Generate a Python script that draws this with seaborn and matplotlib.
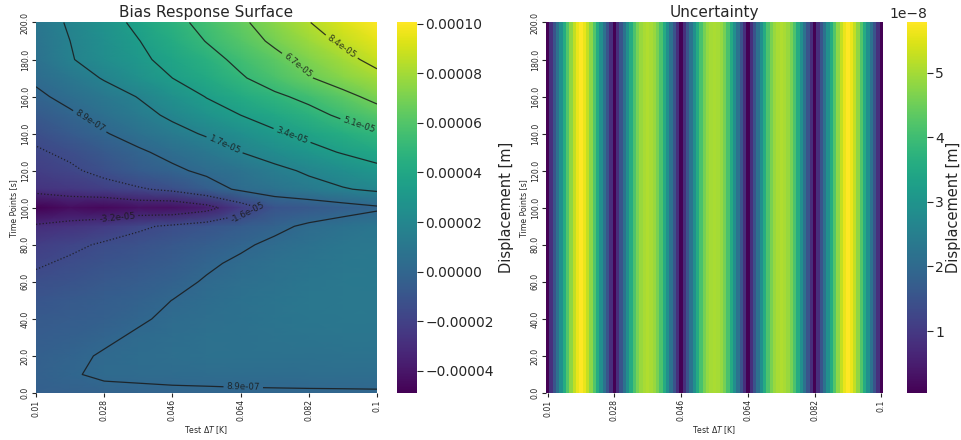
import numpy as np
import pandas as pd
import matplotlib
matplotlib.use("Agg")
import matplotlib.pyplot as plt
import seaborn as sns

# ---------------- data ----------------
# Bias surface grid (values in units of 1e-5 m)
delta_T = [0.01, 0.019, 0.028, 0.037, 0.046, 0.055, 0.064, 0.073, 0.082, 0.091, 0.1]
time_points = [200, 190, 180, 170, 160, 150, 140, 130, 120, 110, 100,
               90, 80, 70, 60, 50, 40, 30, 20, 10, 0]

bias_t200 = [0.95, 1.87, 2.8, 3.72, 4.65, 5.55, 6.45, 7.4, 8.35, 9.25, 10.05]
bias_t190 = [0.8, 1.7, 2.5, 3.35, 4.25, 5.15, 6.05, 6.95, 7.8, 8.65, 9.45]
bias_t180 = [0.6, 1.6, 2.35, 3.1, 3.85, 4.6, 5.45, 6.3, 7.15, 8.0, 8.8]
bias_t170 = [0.3, 1.05, 1.8, 2.6, 3.4, 4.15, 4.95, 5.75, 6.6, 7.35, 8.0]
bias_t160 = [-0.15, 0.45, 1.1, 1.75, 2.6, 3.45, 4.2, 4.85, 5.45, 6.3, 7.1]
bias_t150 = [-0.75, -0.1, 0.55, 1.25, 1.95, 2.8, 3.4, 4.0, 4.65, 5.35, 6.1]
bias_t140 = [-1.3, -0.65, 0.0, 0.6, 1.25, 1.85, 2.5, 3.2, 3.75, 4.35, 4.95]
bias_t130 = [-1.75, -1.35, -0.7, -0.1, 0.45, 1.0, 1.7, 2.3, 2.95, 3.5, 4.0]
bias_t120 = [-2.2, -1.8, -1.25, -0.6, -0.15, 0.35, 0.8, 1.35, 1.9, 2.45, 3.0]
bias_t110 = [-2.7, -2.45, -2.1, -1.75, -1.3, -0.5, 0.3, 0.8, 1.2, 1.6, 1.95]
bias_t100 = [-4.9, -4.4, -4.6, -4.2, -4.3, -3.7, -2.3, -1.0, -0.8, -0.45, -0.1]
bias_t090 = [-3.0, -2.7, -2.3, -1.8, -1.4, -1.0, -0.6, -0.2, 0.3, 0.65, 0.95]
bias_t080 = [-2.2, -1.85, -1.45, -1.15, -0.85, -0.5, -0.1, 0.35, 0.7, 0.95, 1.1]
bias_t070 = [-1.75, -1.4, -1.1, -0.85, -0.55, -0.1, 0.3, 0.6, 0.85, 1.05, 1.15]
bias_t060 = [-1.3, -1.05, -0.8, -0.55, -0.25, 0.2, 0.5, 0.75, 0.95, 1.1, 1.15]
bias_t050 = [-0.95, -0.75, -0.5, -0.25, 0.1, 0.4, 0.65, 0.85, 1.0, 1.1, 1.1]
bias_t040 = [-0.75, -0.55, -0.35, -0.05, 0.3, 0.5, 0.7, 0.85, 0.95, 1.0, 1.0]
bias_t030 = [-0.55, -0.35, -0.1, 0.25, 0.45, 0.6, 0.7, 0.8, 0.85, 0.9, 0.9]
bias_t020 = [-0.4, -0.15, 0.2, 0.4, 0.5, 0.6, 0.65, 0.7, 0.7, 0.75, 0.75]
bias_t010 = [-0.3, 0.0, 0.25, 0.3, 0.35, 0.38, 0.4, 0.4, 0.42, 0.42, 0.43]
bias_t000 = [-0.35, -0.3, -0.2, -0.15, -0.1, -0.08, -0.05, -0.03, -0.02, -0.01, 0.0]

# Contour levels printed on the chart
contour_levels = [-3.2e-05, -1.6e-05, 8.9e-07, 1.7e-05, 3.4e-05, 5.1e-05, 6.7e-05, 8.4e-05]

# Uncertainty per test dT column (units of 1e-8 m), constant over time
unc_seg1 = [0.05, 0.81, 1.5, 2.2, 2.9, 3.58, 4.22, 4.8, 5.26, 5.6, 5.78,
            5.6, 5.26, 4.8, 4.22, 3.58, 2.9, 2.2, 1.5, 0.81, 0.04]
unc_seg2 = [0.8, 1.5, 2.2, 2.88, 3.55, 4.15, 4.6, 4.9, 5.03, 5.09,
            5.03, 4.9, 4.6, 4.15, 3.55, 2.88, 2.2, 1.5, 0.8, 0.04]
unc_seg3 = [0.8, 1.5, 2.2, 2.87, 3.53, 4.12, 4.57, 4.87, 5.0, 5.05,
            5.0, 4.87, 4.57, 4.12, 3.53, 2.87, 2.2, 1.5, 0.8, 0.04]
unc_seg4 = [0.8, 1.5, 2.2, 2.88, 3.55, 4.15, 4.6, 4.9, 5.03, 5.09,
            5.03, 4.9, 4.6, 4.15, 3.55, 2.88, 2.2, 1.5, 0.8, 0.04]
unc_seg5 = [0.81, 1.5, 2.2, 2.9, 3.58, 4.22, 4.8, 5.26, 5.6, 5.78,
            5.6, 5.26, 4.8, 4.22, 3.58, 2.9, 2.2, 1.5, 0.81, 0.05]

x_tick_labels = ["0.01", "0.028", "0.046", "0.064", "0.082", "0.1"]
y_tick_labels = ["200.0", "180.0", "160.0", "140.0", "120.0", "100.0",
                 "80.0", "60.0", "40.0", "20.0", "0.0"]

# ---------------- build tables ----------------
bias_rows = [bias_t200, bias_t190, bias_t180, bias_t170, bias_t160, bias_t150,
             bias_t140, bias_t130, bias_t120, bias_t110, bias_t100, bias_t090,
             bias_t080, bias_t070, bias_t060, bias_t050, bias_t040, bias_t030,
             bias_t020, bias_t010, bias_t000]
bias_df = pd.DataFrame(np.array(bias_rows) * 1e-5, index=time_points, columns=delta_T)

unc_vals = np.array(unc_seg1 + unc_seg2 + unc_seg3 + unc_seg4 + unc_seg5) * 1e-8
unc_dT = np.round(np.linspace(0.01, 0.1, len(unc_vals)), 4)
unc_df = pd.DataFrame([unc_vals], index=["all"], columns=unc_dT)

# ---------------- style ----------------
sns.set_theme(style="ticks")
plt.rcParams["font.family"] = ["DejaVu Sans"]
plt.rcParams["text.color"] = ".15"
plt.rcParams["axes.labelcolor"] = ".15"

fig = plt.figure(figsize=(9.62, 4.4), dpi=100)
W, H = 962.0, 440.0
def frac(x0, y0, x1, y1):
    return [x0 / W, 1 - y1 / H, (x1 - x0) / W, (y1 - y0) / H]

ax1 = fig.add_axes(frac(36, 22.5, 377, 393))
cax1 = fig.add_axes(frac(397, 22.5, 417, 393))
ax2 = fig.add_axes(frac(546, 22.5, 883, 393))
cax2 = fig.add_axes(frac(907, 22.5, 927, 393))

# ---------------- left: bias surface ----------------
sns.heatmap(bias_df, cmap="viridis", ax=ax1, cbar_ax=cax1, shading="gouraud",
            xticklabels=False, yticklabels=False,
            cbar_kws={"label": "Displacement [m]"})
nr, nc = bias_df.shape
ax1.set_xlim(0, nc - 1)
ax1.set_ylim(nr - 1, 0)
cs = ax1.contour(np.arange(nc), np.arange(nr), bias_df.values, levels=contour_levels,
                 colors="k", linewidths=0.9, alpha=0.85, negative_linestyles=":")

def pos(dT, t):
    return ((dT - 0.01) / 0.009, (200 - t) / 10.0)

manual = [pos(0.090, 185), pos(0.0787, 176), pos(0.095, 143), pos(0.0775, 138.6),
          pos(0.0594, 132.3), pos(0.0242, 146.7), pos(0.0647, 3.6),
          pos(0.0313, 97.3), pos(0.0656, 99.0)]
ax1.clabel(cs, fmt="%.1e", fontsize=6.3, manual=manual, inline=True, inline_spacing=3)

ax1.set_xticks(np.arange(0, nc, 2))
ax1.set_xticklabels(x_tick_labels, rotation=90)
ax1.set_yticks(np.arange(0, nr, 2))
ax1.set_yticklabels(y_tick_labels, rotation=90, va="center")
ax1.set_title("Bias Response Surface", fontsize=11, pad=4)

# ---------------- right: uncertainty ----------------
sns.heatmap(unc_df, cmap="viridis", ax=ax2, cbar_ax=cax2,
            xticklabels=False, yticklabels=False,
            cbar_kws={"label": "Displacement [m]"})
ncu = unc_df.shape[1]
ax2.set_xticks(np.arange(0, ncu, 20) + 0.5)
ax2.set_xticklabels(x_tick_labels, rotation=90)
ax2.set_yticks(np.linspace(0, 1, 11))
ax2.set_yticklabels(y_tick_labels, rotation=90, va="center")
ax2.set_title("Uncertainty", fontsize=11, pad=4)

for ax in (ax1, ax2):
    ax.set_xlabel("Test $\\Delta T$ [K]", fontsize=5.6, labelpad=2)
    ax.set_ylabel("Time Points [s]", fontsize=5.6, labelpad=2)
    ax.tick_params(axis="both", labelsize=5.6, length=3, width=0.8, pad=1.5, color=".15")

for cax in (cax1, cax2):
    cax.tick_params(labelsize=10, length=4, width=0.8, pad=2, color=".15")
    cax.yaxis.label.set_size(10.5)
    cax.yaxis.get_offset_text().set_size(10)
cax1.yaxis.labelpad = 4
cax2.yaxis.labelpad = 1

fig.savefig("out.png", dpi=100)
